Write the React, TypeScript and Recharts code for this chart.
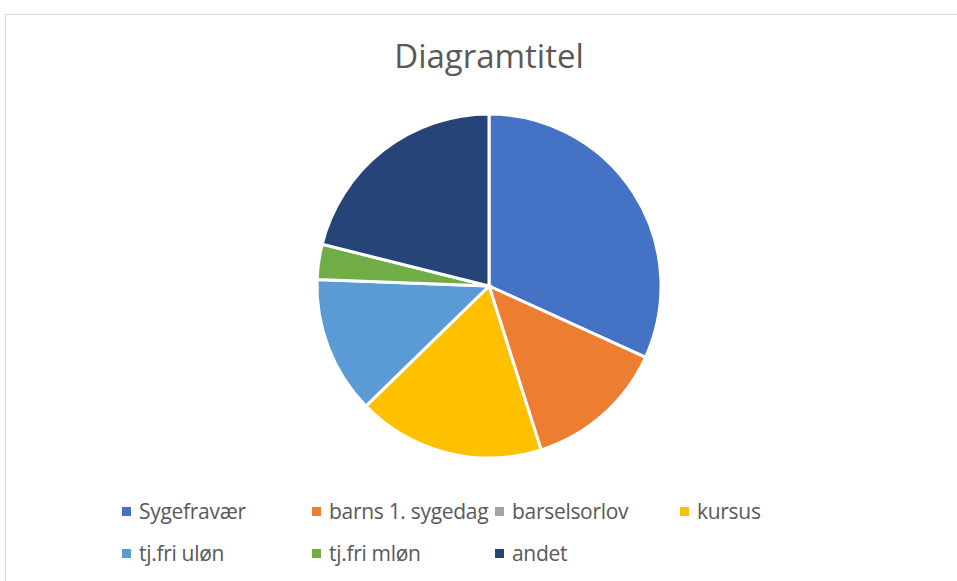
import { PieChart, Pie, Cell, Legend } from 'recharts'

const categories = ['Sygefravær', 'barns 1. sygedag', 'barselsorlov', 'kursus', 'tj.fri uløn', 'tj.fri mløn', 'andet']
const values = [31.8, 13.3, 0, 17.6, 12.9, 3.3, 21.1]
const colors = ['#4472C4', '#ED7D31', '#A5A5A5', '#FFC000', '#5B9BD5', '#70AD47', '#264478']

const data = categories.map((name, i) => ({ name, value: values[i] }))

const FONT = '"Open Sans", "Liberation Sans", sans-serif'

// legend laid out in two rows of four columns like the original
const legendCols = [122, 312, 495, 680]

function renderLegend() {
    return (
        <div style={{ position: 'relative', width: 957, height: 80 }}>
            {categories.map((name, i) => {
                const col = i % 4
                const row = Math.floor(i / 4)
                return (
                    <div
                        key={name}
                        style={{
                            position: 'absolute',
                            left: legendCols[col],
                            top: row * 42,
                            display: 'flex',
                            alignItems: 'center',
                            fontFamily: FONT,
                            fontSize: 21,
                            letterSpacing: -0.3,
                            color: '#595959',
                            whiteSpace: 'nowrap'
                        }}
                    >
                        <span style={{ width: 9, height: 9, background: colors[i], marginRight: 8, display: 'inline-block' }} />
                        {name}
                    </div>
                )
            })}
        </div>
    )
}

export default function App() {
    return (
        <div style={{ position: 'absolute', left: 0, top: 0, width: 957, height: 581, overflow: 'hidden', background: '#fff' }}>
            <div style={{ position: 'absolute', left: 5, top: 14, width: 1000, height: 700, border: '1px solid #d9d9d9' }} />
            <div
                style={{
                    position: 'absolute',
                    left: 0,
                    width: 978,
                    top: 33,
                    textAlign: 'center',
                    fontFamily: FONT,
                    fontSize: 33,
                    color: '#595959'
                }}
            >
                Diagramtitel
            </div>
            <div style={{ position: 'absolute', left: 0, top: 0 }}>
                <PieChart width={957} height={581} margin={{ top: 0, right: 0, bottom: 0, left: 0 }}>
                    <Pie
                        data={data}
                        dataKey="value"
                        nameKey="name"
                        cx={489}
                        cy={286}
                        outerRadius={172}
                        startAngle={90}
                        endAngle={-270}
                        stroke="#ffffff"
                        strokeWidth={3}
                        isAnimationActive={false}
                    >
                        {data.map((d, i) => (
                            <Cell key={d.name} fill={colors[i]} />
                        ))}
                    </Pie>
                    <Legend
                        content={renderLegend}
                        wrapperStyle={{ left: 0, top: 497, width: 957 }}
                    />
                </PieChart>
            </div>
        </div>
    )
}
